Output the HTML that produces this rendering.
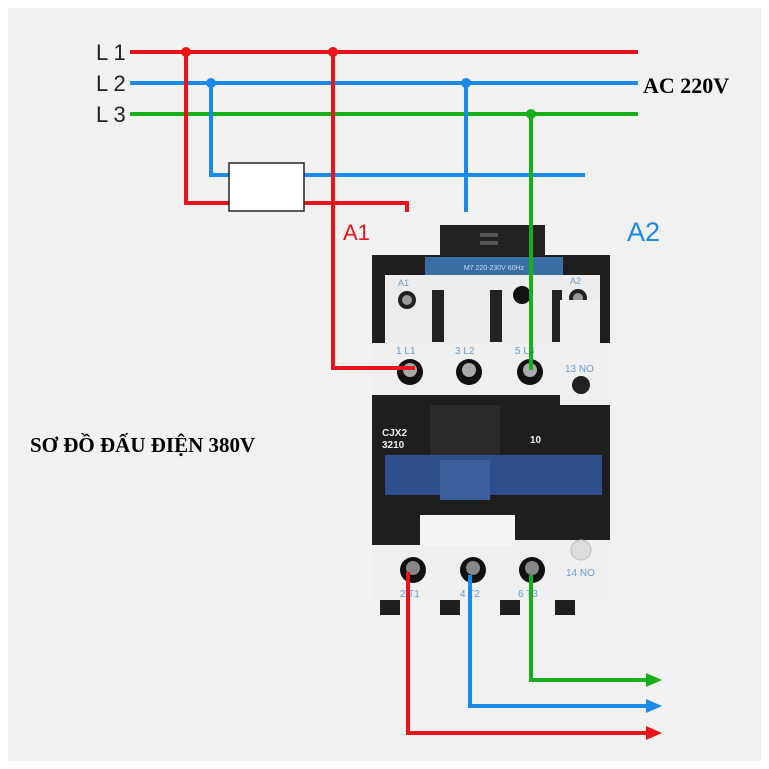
<!DOCTYPE html>
<html><head><meta charset="utf-8"><style>
html,body{margin:0;padding:0;background:#fff;}
svg{display:block}
</style></head><body>
<svg width="769" height="769" viewBox="0 0 769 769" xmlns="http://www.w3.org/2000/svg">
<rect x="0" y="0" width="769" height="769" fill="#ffffff"/>
<rect x="8" y="8" width="753" height="753" fill="#f1f1f1"/>
<!-- contactor body -->
<rect x="440" y="225" width="105" height="40" fill="#222"/>
<rect x="480" y="233" width="18" height="4" fill="#555"/>
<rect x="480" y="241" width="18" height="4" fill="#555"/>
<rect x="372" y="255" width="238" height="345" fill="#1e1e1e"/>
<rect x="425" y="257" width="138" height="18" fill="#3b6ea5"/>
<text x="494" y="270" font-family="Liberation Sans,sans-serif" font-size="7" fill="#cde" text-anchor="middle">M7 220-230V 60Hz</text>
<rect x="385" y="275" width="215" height="70" fill="#ececec"/>
<rect x="432" y="290" width="12" height="52" fill="#222"/>
<rect x="490" y="290" width="12" height="52" fill="#222"/>
<rect x="552" y="290" width="10" height="52" fill="#222"/>
<circle cx="522" cy="295" r="9" fill="#111"/>
<circle cx="407" cy="300" r="9" fill="#222"/><circle cx="407" cy="300" r="5" fill="#999"/>
<circle cx="578" cy="298" r="9" fill="#222"/><circle cx="578" cy="298" r="5" fill="#999"/>
<text x="398" y="286" font-family="Liberation Sans,sans-serif" font-size="9" fill="#6aa0d0">A1</text>
<text x="570" y="284" font-family="Liberation Sans,sans-serif" font-size="9" fill="#6aa0d0">A2</text>
<rect x="372" y="343" width="230" height="52" fill="#efefef"/>
<rect x="560" y="343" width="50" height="62" fill="#efefef"/>
<rect x="560" y="300" width="40" height="45" fill="#efefef"/>
<circle cx="410" cy="372" r="13" fill="#111"/><circle cx="410" cy="370" r="7" fill="#aaa"/>
<circle cx="469" cy="372" r="13" fill="#111"/><circle cx="469" cy="370" r="7" fill="#aaa"/>
<circle cx="530" cy="372" r="13" fill="#111"/><circle cx="530" cy="370" r="7" fill="#aaa"/>
<circle cx="581" cy="385" r="9" fill="#222"/>
<rect x="430" y="405" width="70" height="50" fill="#2a2a2a"/>
<text x="382" y="436" font-family="Liberation Sans,sans-serif" font-size="10" font-weight="bold" fill="#eee">CJX2</text>
<text x="382" y="448" font-family="Liberation Sans,sans-serif" font-size="10" font-weight="bold" fill="#eee">3210</text>
<text x="530" y="443" font-family="Liberation Sans,sans-serif" font-size="10" font-weight="bold" fill="#eee">10</text>
<rect x="385" y="455" width="217" height="40" fill="#2f4f8c"/>
<rect x="440" y="460" width="50" height="40" fill="#3c5fa0"/>
<rect x="420" y="515" width="95" height="30" fill="#f5f5f5"/>
<rect x="372" y="545" width="238" height="55" fill="#efefef"/>
<rect x="515" y="540" width="95" height="20" fill="#efefef"/>
<rect x="380" y="600" width="20" height="15" fill="#1e1e1e"/>
<rect x="440" y="600" width="20" height="15" fill="#1e1e1e"/>
<rect x="500" y="600" width="20" height="15" fill="#1e1e1e"/>
<rect x="555" y="600" width="20" height="15" fill="#1e1e1e"/>
<circle cx="413" cy="570" r="13" fill="#111"/><circle cx="413" cy="568" r="7" fill="#888"/>
<circle cx="473" cy="570" r="13" fill="#111"/><circle cx="473" cy="568" r="7" fill="#888"/>
<circle cx="532" cy="570" r="13" fill="#111"/><circle cx="532" cy="568" r="7" fill="#888"/>
<circle cx="581" cy="550" r="10" fill="#ddd" stroke="#bbb"/>
<g font-family="Liberation Sans,sans-serif" font-size="10" fill="#6aa0d0">
<text x="396" y="354">1 L1</text><text x="455" y="354">3 L2</text><text x="515" y="354">5 L3</text><text x="565" y="372">13 NO</text>
<text x="400" y="597">2 T1</text><text x="460" y="597">4 T2</text><text x="518" y="597">6 T3</text><text x="566" y="576">14 NO</text>
</g>
<!-- wires -->
<g stroke-width="4" fill="none" stroke-linecap="butt">
<line x1="130" y1="52" x2="638" y2="52" stroke="#e8141b"/>
<line x1="130" y1="83" x2="638" y2="83" stroke="#1a8ae8"/>
<line x1="130" y1="114" x2="638" y2="114" stroke="#18b018"/>
<polyline points="186,52 186,203 407,203 407,212" stroke="#e8141b"/>
<polyline points="211,83 211,175 585,175" stroke="#1a8ae8"/>
<polyline points="333,52 333,368 415,368" stroke="#e8141b"/>
<line x1="466" y1="83" x2="466" y2="212" stroke="#1a8ae8"/>
<line x1="531" y1="114" x2="531" y2="370" stroke="#18b018"/>
<polyline points="408,572 408,733 648,733" stroke="#e8141b"/>
<polyline points="470,575 470,706 648,706" stroke="#1a8ae8"/>
<polyline points="531,575 531,680 648,680" stroke="#18b018"/>
</g>
<polygon points="646,726 662,733 646,740" fill="#e8141b"/>
<polygon points="646,699 662,706 646,713" fill="#1a8ae8"/>
<polygon points="646,673 662,680 646,687" fill="#18b018"/>
<circle cx="186" cy="52" r="5" fill="#e8141b"/><circle cx="333" cy="52" r="5" fill="#e8141b"/>
<circle cx="211" cy="83" r="5" fill="#1a8ae8"/><circle cx="466" cy="83" r="5" fill="#1a8ae8"/>
<circle cx="531" cy="114" r="5" fill="#18b018"/>
<rect x="229" y="163" width="75" height="48" fill="#fff" stroke="#222" stroke-width="1.5"/>
<!-- labels -->
<g font-family="Liberation Sans,sans-serif" font-size="22" fill="#222">
<text x="96" y="60">L 1</text><text x="96" y="91">L 2</text><text x="96" y="122">L 3</text>
</g>
<text x="643" y="93" font-family="Liberation Serif,serif" font-size="22" font-weight="bold" fill="#000">AC 220V</text>
<text x="343" y="240" font-family="Liberation Sans,sans-serif" font-size="22" fill="#e8141b">A1</text>
<text x="627" y="241" font-family="Liberation Sans,sans-serif" font-size="27" fill="#1a8ae8">A2</text>
<text x="30" y="452" font-family="Liberation Serif,serif" font-size="21" font-weight="bold" fill="#000">SƠ ĐỒ ĐẤU ĐIỆN 380V</text>
</svg>
</body></html>
